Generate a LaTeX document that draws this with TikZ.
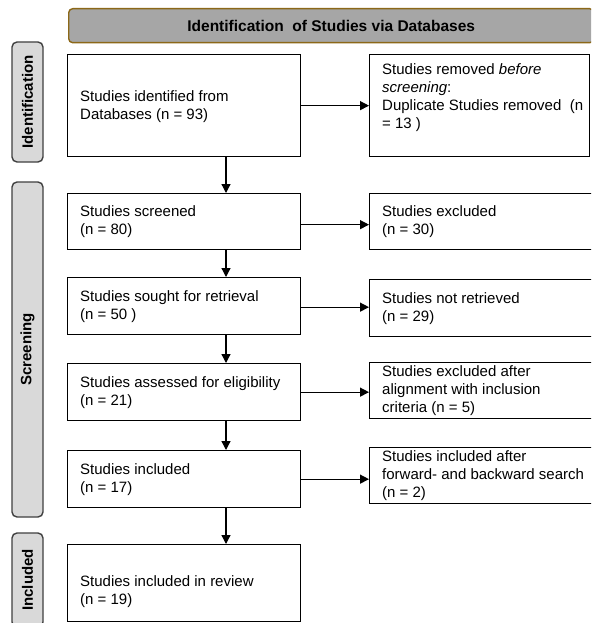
\documentclass[tikz,border=0pt]{standalone}
\usepackage{fontspec}
\setmainfont{Liberation Sans}
\usetikzlibrary{arrows.meta,calc}
\definecolor{hdrfill}{RGB}{166,166,166}
\definecolor{hdrline}{RGB}{140,104,24}
\definecolor{sidefill}{RGB}{217,217,217}
\definecolor{sideline}{RGB}{64,64,64}
\begin{document}
\begin{tikzpicture}[x=1pt,y=-1pt,
  box/.style={draw=black, line width=1.3pt, rectangle, inner sep=0pt, anchor=north west},
  txt/.style={align=left, anchor=west, inner sep=0pt, font=\fontsize{15}{18}\selectfont},
  side/.style={draw=sideline, fill=sidefill, line width=1.4pt, rounded corners=5pt, inner sep=0pt,
    rotate=90, minimum height=31pt, font=\fontsize{15}{18}\selectfont\bfseries},
  hdr/.style={draw=hdrline, fill=hdrfill, line width=1.4pt, rounded corners=4pt, inner sep=0pt,
    anchor=north west, font=\fontsize{15.5}{18}\selectfont\bfseries},
  arr/.style={line width=1.3pt, -{Triangle[length=9pt,width=9pt]}},
]
\useasboundingbox (0,0) rectangle (591,623);
\clip (0,0) rectangle (591,623);
\fill[white] (0,0) rectangle (591,623);

% header
\node[hdr, minimum width=525pt, minimum height=34pt] (h) at (68,8) {Identification\ \ of Studies via Databases};

% side labels
\node[side, minimum width=120pt] (s1) at (27.5,102) {Identification};
\node[side, minimum width=335pt] (s2) at (27.5,349.5) {Screening};
\node[side, minimum width=94pt] (s3) at (27.5,580) {Included};

% left column boxes
\node[box, minimum width=233pt, minimum height=102pt] (b1) at (67,54) {};
\node[box, minimum width=233pt, minimum height=56pt] (b2) at (67,193) {};
\node[box, minimum width=233pt, minimum height=57pt] (b3) at (67,277) {};
\node[box, minimum width=233pt, minimum height=57pt] (b4) at (67,363) {};
\node[box, minimum width=233pt, minimum height=57pt] (b5) at (67,450) {};
\node[box, minimum width=233pt, minimum height=77pt] (b6) at (67,544) {};

% right column boxes
\node[box, minimum width=220pt, minimum height=102pt] (r1) at (369,54) {};
\node[box, minimum width=240pt, minimum height=56pt] (r2) at (369,193) {};
\node[box, minimum width=240pt, minimum height=57pt] (r3) at (369,279) {};
\node[box, minimum width=240pt, minimum height=56pt] (r4) at (369,362) {};
\node[box, minimum width=240pt, minimum height=56pt] (r5) at (369,447) {};

% texts
\node[txt] (tb1) at ($(b1.west)+(13,1)$) {Studies identified from\\Databases (n = 93)};
\node[txt] (tb2) at ($(b2.west)+(13,0)$) {Studies screened\\(n = 80)};
\node[txt] (tb3) at ($(b3.west)+(13,0)$) {Studies sought for retrieval\\(n = 50 )};
\node[txt] (tb4) at ($(b4.west)+(13,0)$) {Studies assessed for eligibility\\(n = 21)};
\node[txt] (tb5) at ($(b5.west)+(13,0)$) {Studies included\\(n = 17)};
\node[txt] (tb6) at ($(b6.west)+(13,8)$) {Studies included in review\\(n = 19)};

\node[txt] (tr1) at ($(r1.west)+(13,-8)$) {Studies removed \textit{before}\\\textit{screening}:\\Duplicate Studies removed\ \ (n\\= 13 )};
\node[txt] (tr2) at ($(r2.west)+(13,0)$) {Studies excluded\\(n = 30)};
\node[txt] (tr3) at ($(r3.west)+(13,0)$) {Studies not retrieved\\(n = 29)};
\node[txt] (tr4) at ($(r4.west)+(13,0)$) {Studies excluded after\\alignment with inclusion\\criteria (n = 5)};
\node[txt] (tr5) at ($(r5.west)+(13,0)$) {Studies included after\\forward- and backward search\\(n = 2)};

% vertical arrows
\coordinate (ax) at (226,0);
\draw[arr] (b1.south -| ax) -- (b2.north -| ax);
\draw[arr] (b2.south -| ax) -- (b3.north -| ax);
\draw[arr] (b3.south -| ax) -- (b4.north -| ax);
\draw[arr] (b4.south -| ax) -- (b5.north -| ax);
\draw[arr] (b5.south -| ax) -- (b6.north -| ax);

% horizontal arrows
\draw[arr] (b1.east) -- (b1.east -| r1.west);
\draw[arr] ($(b2.east)+(0,3)$) -- ($(b2.east -| r2.west)+(0,3)$);
\draw[arr] ($(b3.east)+(0,1)$) -- ($(b3.east -| r3.west)+(0,1)$);
\draw[arr] (b4.east) -- (b4.east -| r4.west);
\draw[arr] (b5.east) -- (b5.east -| r5.west);
\end{tikzpicture}
\end{document}
